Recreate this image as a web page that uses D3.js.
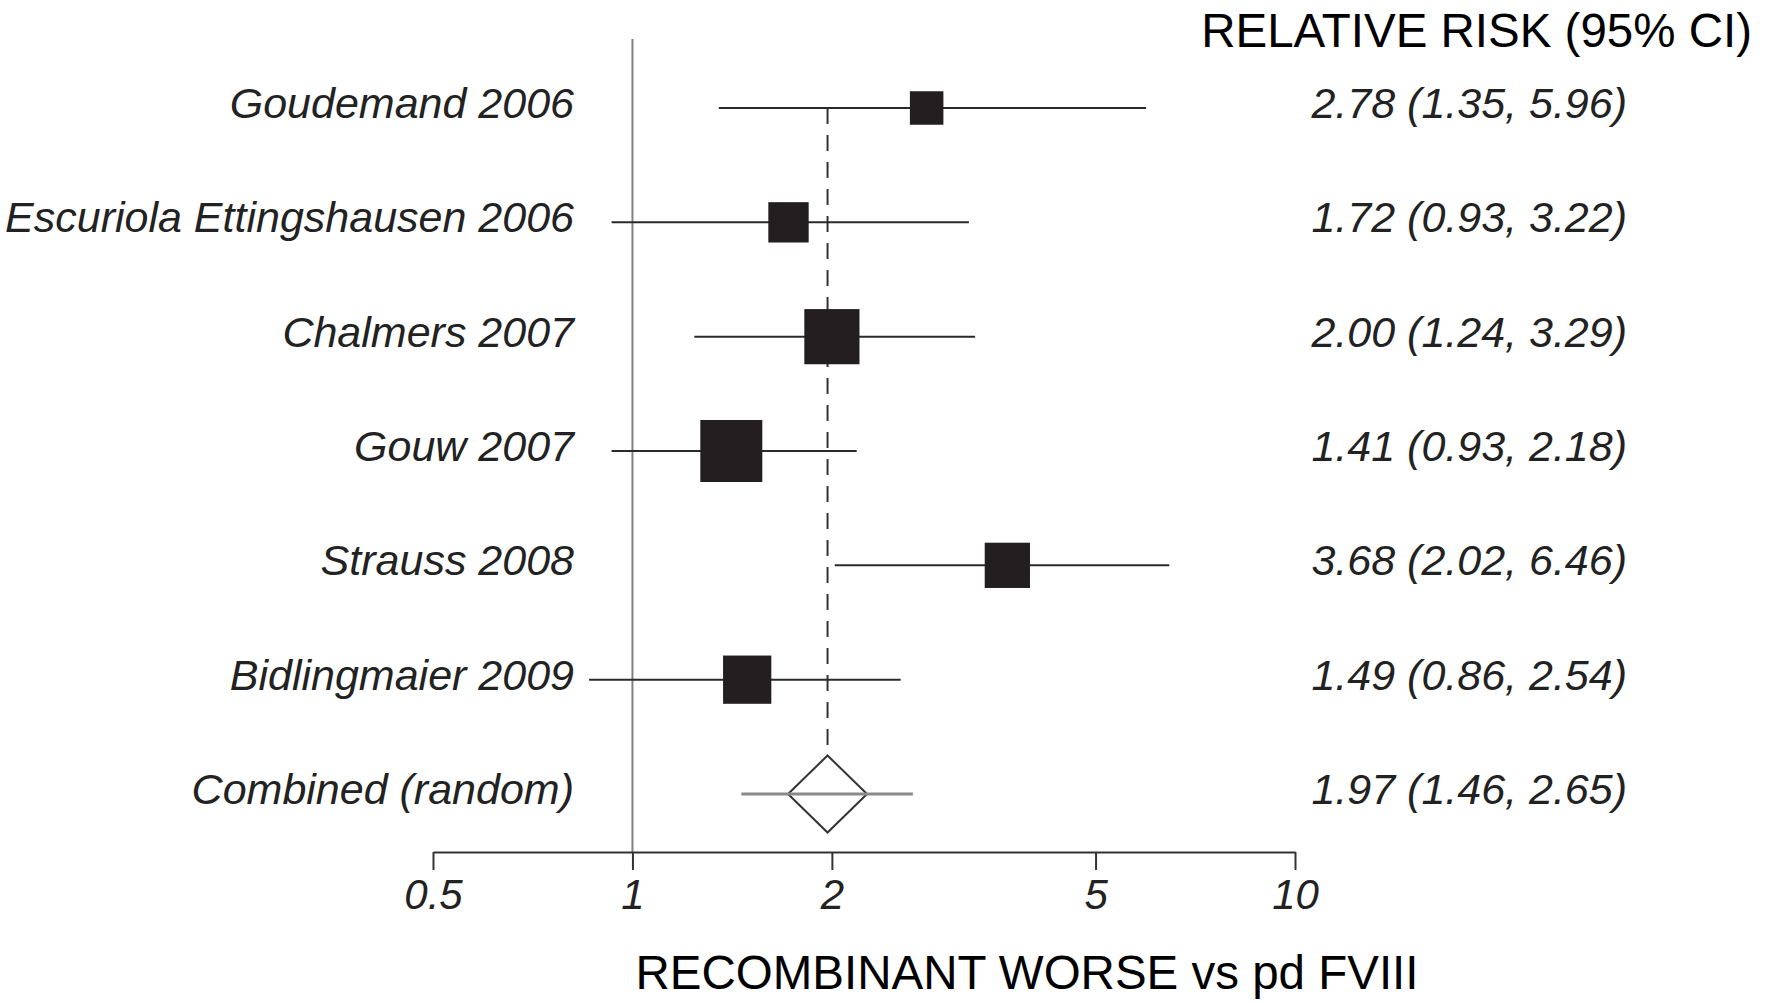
<!DOCTYPE html>
<html>
<head>
<meta charset="utf-8">
<script src="https://cdn.jsdelivr.net/npm/d3@7"></script>
<style>
  html, body { margin: 0; padding: 0; background: #fff; }
  svg { display: block; }
  text { font-family: "Liberation Sans", Arial, Helvetica, sans-serif; }
</style>
</head>
<body>
<div id="chart"></div>
<script>
// study data
const studies = ["Goudemand 2006", "Escuriola Ettingshausen 2006", "Chalmers 2007",
  "Gouw 2007", "Strauss 2008", "Bidlingmaier 2009"];
const rr = [2.78, 1.72, 2.00, 1.41, 3.68, 1.49];
const lower = [1.35, 0.93, 1.24, 0.93, 2.02, 0.86];
const upper = [5.96, 3.22, 3.29, 2.18, 6.46, 2.54];
const weights = [8.0, 11.6, 21.7, 27.4, 14.6, 16.6]; // relative box areas

const pooledLabel = "Combined (random)";
const pooledRR = 1.97, pooledLower = 1.46, pooledUpper = 2.65;

const tickValues = [0.5, 1, 2, 5, 10];
const tickLabels = ["0.5", "1", "2", "5", "10"];

const width = 1765, height = 1003;
const fmt = d3.format(".2f");

const svg = d3.select("#chart").append("svg")
  .attr("width", width)
  .attr("height", height);

const x = d3.scaleLog()
  .domain([0.5, 10])
  .range([433, 1295]);

const rows = studies.concat([pooledLabel]);
const y = d3.scalePoint()
  .domain(rows)
  .range([108, 794]);

const side = d3.scaleSqrt()
  .domain([0, d3.max(weights)])
  .range([0, 62]);

const data = studies.map((s, i) => ({name: s, rr: rr[i], lo: lower[i], hi: upper[i], w: weights[i]}));

// line of no effect
svg.append("line")
  .attr("x1", x(1)).attr("x2", x(1))
  .attr("y1", 39).attr("y2", 852)
  .attr("stroke", "#808080")
  .attr("stroke-width", 2);

// dashed line at pooled estimate
const diamondH = 77, diamondW = 79;
svg.append("line")
  .attr("x1", x(pooledRR)).attr("x2", x(pooledRR))
  .attr("y1", y(studies[0]))
  .attr("y2", y(pooledLabel) - diamondH / 2 - 4)
  .attr("stroke", "#333")
  .attr("stroke-width", 2)
  .attr("stroke-dasharray", "16,11");

// confidence intervals
svg.selectAll(".ci")
  .data(data)
  .enter()
  .append("line")
  .attr("class", "ci")
  .attr("x1", d => x(d.lo))
  .attr("x2", d => x(d.hi))
  .attr("y1", d => y(d.name))
  .attr("y2", d => y(d.name))
  .attr("stroke", "#2a2a2a")
  .attr("stroke-width", 2);

// weighted boxes
svg.selectAll(".box")
  .data(data)
  .enter()
  .append("rect")
  .attr("class", "box")
  .attr("x", d => x(d.rr) - side(d.w) / 2)
  .attr("y", d => y(d.name) - side(d.w) / 2)
  .attr("width", d => side(d.w))
  .attr("height", d => side(d.w))
  .attr("fill", "#231f20");

// pooled estimate
const py = y(pooledLabel), px = x(pooledRR);
svg.append("path")
  .attr("d", `M${px},${py - diamondH / 2} L${px + diamondW / 2},${py} L${px},${py + diamondH / 2} L${px - diamondW / 2},${py} Z`)
  .attr("fill", "#fff")
  .attr("stroke", "#333")
  .attr("stroke-width", 2);

svg.append("line")
  .attr("x1", x(pooledLower)).attr("x2", x(pooledUpper))
  .attr("y1", py).attr("y2", py)
  .attr("stroke", "#8a8a8a")
  .attr("stroke-width", 3);

// study labels
svg.selectAll(".label")
  .data(rows)
  .enter()
  .append("text")
  .attr("class", "label")
  .attr("x", 574)
  .attr("y", d => y(d) + 10)
  .attr("text-anchor", "end")
  .style("font-style", "italic")
  .style("font-size", "43px")
  .attr("fill", "#222")
  .text(d => d);

// RR (CI) column
const rrText = data.map(d => `${fmt(d.rr)} (${fmt(d.lo)}, ${fmt(d.hi)})`)
  .concat([`${fmt(pooledRR)} (${fmt(pooledLower)}, ${fmt(pooledUpper)})`]);

svg.selectAll(".rrtext")
  .data(rows)
  .enter()
  .append("text")
  .attr("class", "rrtext")
  .attr("x", 1627)
  .attr("y", d => y(d) + 10)
  .attr("text-anchor", "end")
  .style("font-style", "italic")
  .style("font-size", "43px")
  .attr("fill", "#222")
  .text((d, i) => rrText[i]);

svg.append("text")
  .attr("x", 1752)
  .attr("y", 47)
  .attr("text-anchor", "end")
  .style("font-size", "47.5px")
  .attr("fill", "#000")
  .text("RELATIVE RISK (95% CI)");

// x axis
const axis = svg.append("g")
  .attr("transform", "translate(0, 852)")
  .call(d3.axisBottom(x)
    .tickValues(tickValues)
    .tickFormat((d, i) => tickLabels[i])
    .tickSize(18)
    .tickSizeOuter(0)
    .tickPadding(9));

axis.select(".domain").attr("stroke", "#333").attr("stroke-width", 2);
axis.selectAll(".tick line").attr("stroke", "#333").attr("stroke-width", 2);
axis.selectAll(".tick text")
  .style("font-family", "'Liberation Sans', Arial, sans-serif")
  .style("font-style", "italic")
  .style("font-size", "42px")
  .attr("fill", "#222");

svg.append("text")
  .attr("x", 1027)
  .attr("y", 989)
  .attr("text-anchor", "middle")
  .style("font-size", "47.5px")
  .attr("fill", "#000")
  .text("RECOMBINANT WORSE vs pd FVIII");
</script>
</body>
</html>
